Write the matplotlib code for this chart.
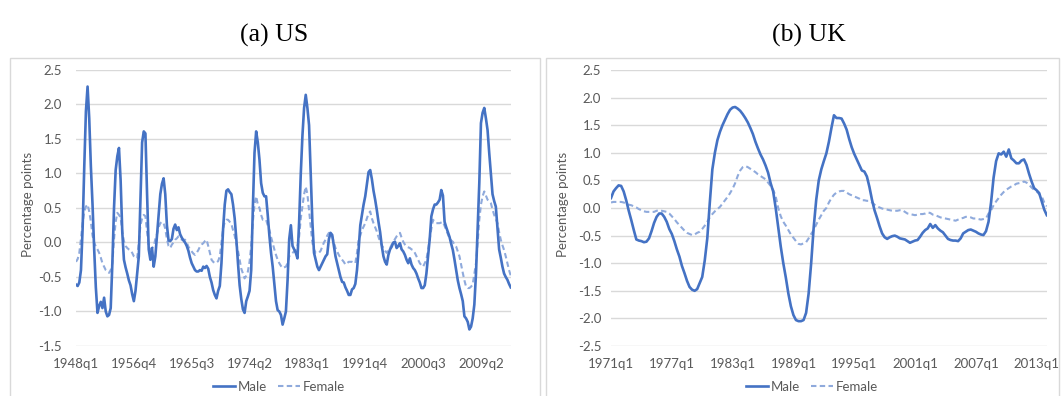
import matplotlib
matplotlib.use("Agg")
import matplotlib.pyplot as plt
from matplotlib.patches import Rectangle
from matplotlib.lines import Line2D

# ---------------- data ----------------
us_start = (1948, 1)
us_male = [
    -0.61, -0.63, -0.58, -0.40, 0.20, 1.10, 1.90, 2.26, 1.80, 1.10,
    0.55, -0.10, -0.65, -1.02, -0.92, -0.86, -0.95, -0.80, -1.00, -1.07,
    -1.05, -0.95, -0.30, 0.50, 1.05, 1.25, 1.37, 0.90, 0.15, -0.25,
    -0.36, -0.45, -0.55, -0.62, -0.75, -0.85, -0.70, -0.45, -0.20, 0.60,
    1.45, 1.61, 1.58, 0.70, -0.10, -0.25, -0.08, -0.35, -0.20, 0.10,
    0.38, 0.70, 0.85, 0.93, 0.70, 0.25, 0.03, 0.02, 0.05, 0.20,
    0.26, 0.18, 0.22, 0.12, 0.07, 0.03, 0.00, -0.05, -0.12, -0.22,
    -0.30, -0.35, -0.40, -0.42, -0.42, -0.40, -0.41, -0.35, -0.37, -0.34,
    -0.38, -0.50, -0.58, -0.69, -0.76, -0.81, -0.70, -0.63, -0.30, 0.20,
    0.55, 0.75, 0.77, 0.73, 0.70, 0.55, 0.35, 0.05, -0.30, -0.62,
    -0.82, -0.97, -1.02, -0.85, -0.78, -0.70, -0.40, 0.50, 1.30, 1.61,
    1.45, 1.20, 0.86, 0.72, 0.67, 0.67, 0.40, 0.10, -0.15, -0.35,
    -0.60, -0.85, -0.98, -1.00, -1.05, -1.19, -1.10, -1.00, -0.55, 0.05,
    0.25, -0.05, -0.10, -0.15, -0.23, 0.30, 1.00, 1.55, 1.95, 2.14,
    1.95, 1.70, 1.00, 0.30, -0.15, -0.25, -0.35, -0.40, -0.35, -0.30,
    -0.25, -0.20, -0.17, 0.05, 0.14, 0.11, -0.05, -0.20, -0.30, -0.40,
    -0.50, -0.57, -0.58, -0.65, -0.70, -0.76, -0.76, -0.68, -0.66, -0.60,
    -0.40, -0.10, 0.25, 0.40, 0.55, 0.67, 0.85, 1.02, 1.05, 0.92,
    0.75, 0.62, 0.47, 0.30, 0.15, -0.05, -0.20, -0.28, -0.32, -0.18,
    -0.10, -0.06, 0.00, 0.01, -0.08, -0.05, -0.01, -0.10, -0.13, -0.18,
    -0.25, -0.30, -0.23, -0.32, -0.37, -0.40, -0.45, -0.52, -0.58, -0.66,
    -0.66, -0.62, -0.45, -0.20, 0.05, 0.38, 0.48, 0.55, 0.55, 0.58,
    0.62, 0.76, 0.68, 0.30, 0.22, 0.15, 0.08, -0.02, -0.11, -0.25,
    -0.40, -0.55, -0.66, -0.75, -0.85, -1.07, -1.10, -1.15, -1.26, -1.22,
    -1.10, -0.90, -0.45, 0.20, 0.86, 1.73, 1.88, 1.95, 1.80, 1.63,
    1.30, 1.00, 0.70, 0.60, 0.52, 0.20, -0.10, -0.22, -0.35, -0.45,
    -0.50, -0.54, -0.60, -0.65,
]
us_female = [
    -0.28, -0.24, -0.15, 0.05, 0.28, 0.45, 0.52, 0.55, 0.45, 0.30,
    0.10, 0.00, -0.06, -0.10, -0.15, -0.22, -0.30, -0.35, -0.40, -0.42,
    -0.44, -0.40, -0.30, 0.05, 0.30, 0.43, 0.40, 0.36, 0.16, 0.02,
    -0.05, -0.08, -0.10, -0.11, -0.15, -0.20, -0.22, -0.23, 0.00, 0.25,
    0.35, 0.40, 0.38, 0.15, -0.05, -0.10, -0.08, -0.06, 0.05, 0.12,
    0.22, 0.28, 0.30, 0.28, 0.20, 0.05, -0.05, -0.08, -0.03, 0.00,
    0.04, 0.06, 0.09, 0.06, 0.04, 0.04, 0.04, 0.00, -0.06, -0.10,
    -0.13, -0.16, -0.18, -0.15, -0.11, -0.06, -0.03, -0.01, 0.02, 0.04,
    -0.05, -0.15, -0.25, -0.28, -0.30, -0.29, -0.27, -0.20, 0.00, 0.20,
    0.30, 0.33, 0.33, 0.30, 0.27, 0.18, 0.10, -0.02, -0.12, -0.25,
    -0.38, -0.45, -0.52, -0.48, -0.42, -0.28, -0.05, 0.30, 0.55, 0.67,
    0.55, 0.50, 0.40, 0.33, 0.33, 0.33, 0.25, 0.18, 0.08, -0.01,
    -0.10, -0.18, -0.25, -0.30, -0.34, -0.37, -0.36, -0.35, -0.30, -0.20,
    -0.17, -0.15, -0.13, -0.11, -0.05, 0.09, 0.35, 0.52, 0.70, 0.81,
    0.70, 0.47, 0.25, 0.00, -0.10, -0.15, -0.15, -0.15, -0.12, -0.06,
    0.00, 0.04, 0.10, 0.14, 0.13, 0.09, 0.00, -0.08, -0.13, -0.18,
    -0.22, -0.25, -0.28, -0.32, -0.30, -0.28, -0.28, -0.28, -0.29, -0.30,
    -0.15, 0.04, 0.10, 0.18, 0.23, 0.28, 0.35, 0.42, 0.45, 0.35,
    0.28, 0.22, 0.16, 0.08, 0.01, -0.04, -0.08, -0.12, -0.15, -0.11,
    -0.08, -0.03, 0.01, 0.05, 0.09, 0.12, 0.14, 0.07, 0.01, -0.03,
    -0.06, -0.07, -0.08, -0.10, -0.11, -0.15, -0.20, -0.25, -0.30, -0.33,
    -0.35, -0.30, -0.25, -0.10, 0.04, 0.20, 0.33, 0.30, 0.28, 0.28,
    0.28, 0.29, 0.30, 0.24, 0.18, 0.12, 0.06, 0.03, 0.01, -0.03,
    -0.06, -0.13, -0.20, -0.32, -0.44, -0.55, -0.64, -0.66, -0.66, -0.64,
    -0.61, -0.45, -0.30, 0.00, 0.33, 0.55, 0.67, 0.74, 0.68, 0.62,
    0.60, 0.57, 0.48, 0.40, 0.34, 0.28, 0.15, 0.04, -0.04, -0.11,
    -0.20, -0.30, -0.40, -0.48,
]

uk_start = (1971, 1)
uk_male = [
    0.18, 0.30, 0.36, 0.41, 0.40, 0.30, 0.14, -0.05, -0.22, -0.40,
    -0.57, -0.59, -0.60, -0.62, -0.61, -0.55, -0.42, -0.27, -0.16, -0.10,
    -0.10, -0.16, -0.25, -0.38, -0.47, -0.60, -0.75, -0.88, -1.05, -1.18,
    -1.32, -1.43, -1.48, -1.50, -1.47, -1.36, -1.25, -0.95, -0.55, 0.10,
    0.70, 1.00, 1.23, 1.38, 1.50, 1.60, 1.70, 1.78, 1.82, 1.83,
    1.80, 1.76, 1.70, 1.63, 1.55, 1.45, 1.34, 1.20, 1.08, 0.97,
    0.88, 0.77, 0.64, 0.45, 0.30, 0.00, -0.35, -0.70, -1.00, -1.26,
    -1.55, -1.78, -1.94, -2.03, -2.05, -2.05, -2.03, -1.90, -1.55, -1.00,
    -0.35, 0.15, 0.50, 0.70, 0.85, 0.99, 1.20, 1.45, 1.68, 1.63,
    1.63, 1.62, 1.53, 1.42, 1.25, 1.10, 0.98, 0.88, 0.78, 0.68,
    0.66, 0.57, 0.38, 0.15, -0.04, -0.18, -0.33, -0.46, -0.53, -0.56,
    -0.53, -0.51, -0.50, -0.52, -0.55, -0.56, -0.57, -0.60, -0.63, -0.61,
    -0.59, -0.58, -0.52, -0.45, -0.40, -0.37, -0.29, -0.36, -0.31, -0.37,
    -0.41, -0.44, -0.50, -0.56, -0.58, -0.59, -0.59, -0.60, -0.55, -0.46,
    -0.43, -0.40, -0.39, -0.41, -0.43, -0.46, -0.48, -0.49, -0.42, -0.25,
    0.10, 0.55, 0.85, 0.99, 0.97, 1.02, 0.93, 1.06, 0.90, 0.86,
    0.81, 0.81, 0.86, 0.88, 0.78, 0.62, 0.48, 0.36, 0.32, 0.27,
    0.12, -0.03, -0.13,
]
uk_female = [
    0.10, 0.11, 0.11, 0.11, 0.11, 0.10, 0.08, 0.06, 0.05, 0.03,
    0.01, -0.02, -0.04, -0.06, -0.07, -0.07, -0.07, -0.07, -0.05, -0.04,
    -0.05, -0.06, -0.07, -0.10, -0.15, -0.20, -0.26, -0.31, -0.36, -0.41,
    -0.45, -0.47, -0.49, -0.48, -0.45, -0.43, -0.38, -0.32, -0.25, -0.17,
    -0.11, -0.06, -0.02, 0.02, 0.08, 0.14, 0.20, 0.27, 0.35, 0.45,
    0.58, 0.68, 0.74, 0.76, 0.74, 0.71, 0.68, 0.65, 0.61, 0.58,
    0.55, 0.52, 0.46, 0.40, 0.33, 0.21, 0.00, -0.15, -0.25, -0.32,
    -0.40, -0.48, -0.54, -0.60, -0.65, -0.66, -0.64, -0.62, -0.55, -0.47,
    -0.40, -0.30, -0.21, -0.13, -0.05, 0.00, 0.10, 0.18, 0.24, 0.28,
    0.30, 0.31, 0.31, 0.28, 0.25, 0.23, 0.21, 0.19, 0.17, 0.14,
    0.14, 0.13, 0.13, 0.10, 0.06, 0.03, 0.01, -0.01, -0.02, -0.03,
    -0.04, -0.05, -0.05, -0.05, -0.04, -0.04, -0.07, -0.10, -0.11, -0.12,
    -0.13, -0.12, -0.11, -0.11, -0.10, -0.08, -0.09, -0.12, -0.13, -0.15,
    -0.17, -0.18, -0.19, -0.20, -0.21, -0.22, -0.23, -0.21, -0.19, -0.18,
    -0.16, -0.16, -0.17, -0.19, -0.19, -0.20, -0.21, -0.20, -0.19, -0.10,
    -0.04, 0.05, 0.12, 0.18, 0.24, 0.29, 0.33, 0.36, 0.39, 0.41,
    0.44, 0.45, 0.46, 0.48, 0.46, 0.42, 0.37, 0.33, 0.30, 0.25,
    0.21, 0.10, 0.03,
]

us_label_step = 35
uk_label_step = 24
us_yticks = [-1.5, -1.0, -0.5, 0.0, 0.5, 1.0, 1.5, 2.0, 2.5]
uk_yticks = [-2.5, -2.0, -1.5, -1.0, -0.5, 0.0, 0.5, 1.0, 1.5, 2.0, 2.5]


def quarter_labels(start, n):
    y, q = start
    out = []
    for _ in range(n):
        out.append(f"{y}q{q}")
        q += 1
        if q > 4:
            q = 1
            y += 1
    return out


# ---------------- style ----------------
W, H = 1063, 396
MALE_C = "#4472C4"
FEMALE_C = "#8FAADC"
GRID_C = "#D9D9D9"
TXT_C = "#595959"
FONT = "Lato"

plt.rcParams["font.family"] = [FONT, "DejaVu Sans"]

fig = plt.figure(figsize=(W / 100, H / 100), dpi=100)


def px_axes(x0, x1, y_top, y_bot):
    return fig.add_axes([x0 / W, 1 - y_bot / H, (x1 - x0) / W, (y_bot - y_top) / H])


def draw_panel(ax, male, female, start, step, yticks, ypad):
    n = len(male)
    xs = list(range(n))
    labels = quarter_labels(start, n)
    ax.plot(xs, female, color=FEMALE_C, lw=1.5, dashes=(2.6, 1.6), zorder=2)
    ax.plot(xs, male, color=MALE_C, lw=1.9, zorder=3, solid_joinstyle="round")
    ax.set_xlim(0, n - 1)
    ax.set_ylim(yticks[0], yticks[-1])
    ax.set_yticks(yticks)
    ax.set_yticklabels([f"{v:.1f}" for v in yticks])
    tick_pos = list(range(0, n, step))
    ax.set_xticks(tick_pos)
    ax.set_xticklabels([labels[i] for i in tick_pos])
    ax.grid(axis="y", color=GRID_C, lw=1.0)
    ax.set_axisbelow(True)
    for s in ax.spines.values():
        s.set_visible(False)
    ax.tick_params(axis="both", length=0, labelsize=9.5, colors=TXT_C)
    ax.tick_params(axis="x", pad=9)
    ax.tick_params(axis="y", pad=ypad)
    ax.set_ylabel("Percentage points", fontsize=9.5, color=TXT_C)


# panel frames
fig.patches.append(Rectangle((10 / W, -0.05), 530 / W, 1 - 58 / H + 0.05,
                             transform=fig.transFigure, fill=False,
                             edgecolor=GRID_C, lw=1.0))
fig.patches.append(Rectangle((546 / W, -0.05), 513 / W, 1 - 58 / H + 0.05,
                             transform=fig.transFigure, fill=False,
                             edgecolor=GRID_C, lw=1.0))

ax_us = px_axes(76, 510.7, 70, 346)
draw_panel(ax_us, us_male, us_female, us_start, us_label_step, us_yticks, 10)
ax_us.yaxis.set_label_coords((34 - 76) / (510.7 - 76), (346 - 204) / 276)

ax_uk = px_axes(611, 1046.8, 70, 346)
draw_panel(ax_uk, uk_male, uk_female, uk_start, uk_label_step, uk_yticks, 7)
ax_uk.yaxis.set_label_coords((569 - 611) / (1046.8 - 611), (346 - 204) / 276)

# titles
for cx, title in ((274, "(a) US"), (809, "(b) UK")):
    fig.text(cx / W, 1 - 42 / H, title, ha="center", va="baseline",
             fontsize=18.5, family="Liberation Serif", color="black")

# legends
handles = [Line2D([], [], color=MALE_C, lw=1.9),
           Line2D([], [], color=FEMALE_C, lw=1.5, dashes=(2.6, 1.6))]
for cx in (279, 812):
    fig.legend(handles, ["Male", "Female"], loc="center",
               bbox_to_anchor=(cx / W, 1 - 387 / H), ncol=2, frameon=False,
               fontsize=9.5, labelcolor=TXT_C, handlelength=1.7,
               handletextpad=0.2, columnspacing=0.8, borderaxespad=0,
               borderpad=0)

fig.savefig("out.png", dpi=100)
